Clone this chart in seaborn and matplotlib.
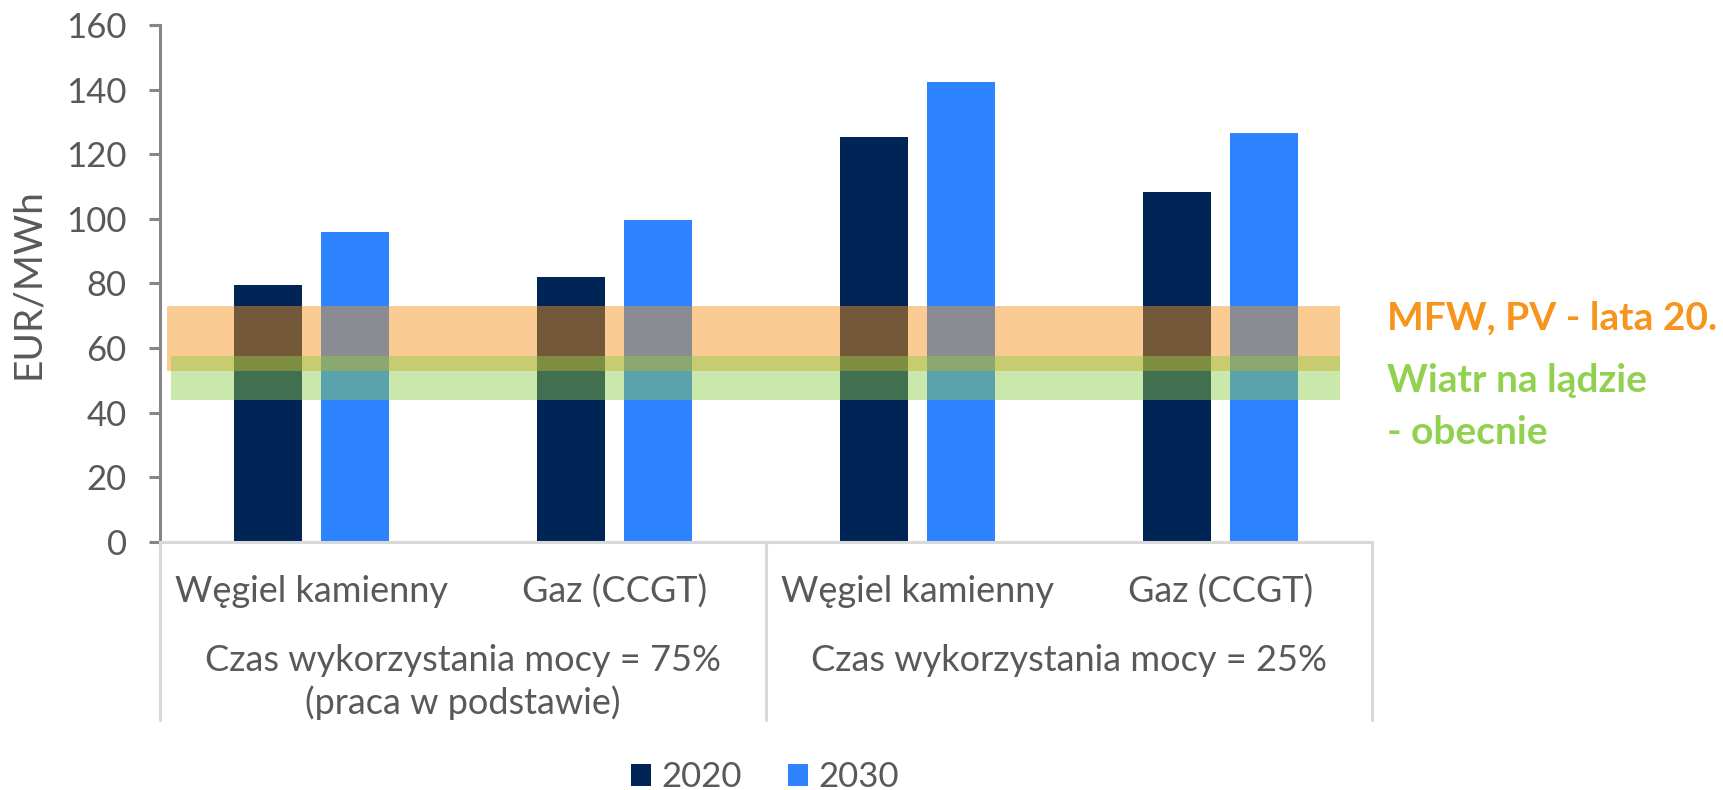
import pandas as pd
import matplotlib
matplotlib.use("Agg")
import matplotlib.pyplot as plt
import seaborn as sns

# Data
categories = ["Węgiel kamienny", "Gaz (CCGT)", "Węgiel kamienny", "Gaz (CCGT)"]
keys = ["coal_75", "gas_75", "coal_25", "gas_25"]
values_2020 = [79.6, 82.0, 125.2, 108.2]
values_2030 = [96.0, 99.7, 142.4, 126.6]
years = ["2020", "2030"]
group_labels = [["Czas wykorzystania mocy = 75%", "(praca w podstawie)"],
                ["Czas wykorzystania mocy = 25%"]]
orange_band = (53.0, 72.9)
green_band = (43.8, 57.6)
orange_text = "MFW, PV - lata 20."
green_text = ["Wiatr na lądzie", "- obecnie"]

df = pd.DataFrame({
    "key": keys * 2,
    "year": [years[0]] * 4 + [years[1]] * 4,
    "value": values_2020 + values_2030,
})

sns.set_style("white")
plt.rcParams["font.family"] = ["Lato", "DejaVu Sans"]

grey_txt = "#595959"
navy = "#002456"
blue = "#2E84FF"
orange = "#F5931A"
green = "#8DCC4A"

fig = plt.figure(figsize=(17.23, 7.9), dpi=100)
ax = fig.add_axes([160 / 1723, 1 - 541.8 / 790, 1212 / 1723, 516.8 / 790])

sns.barplot(data=df, x="key", y="value", hue="year", order=keys,
            palette=[navy, blue], width=0.57, gap=0.21, saturation=1,
            linewidth=0, ax=ax, zorder=2)

# price bands of renewables
ax.axhspan(*orange_band, xmin=0.006, xmax=0.974, color=orange, alpha=0.47, lw=0, zorder=3)
ax.axhspan(*green_band, xmin=0.009, xmax=0.974, color=green, alpha=0.46, lw=0, zorder=4)

ax.set_ylim(0, 160)
ax.set_xlim(-0.5, 3.5)
ax.set_yticks(range(0, 161, 20))
ax.tick_params(axis="y", labelsize=25, colors="#868686", labelcolor=grey_txt,
               length=8, width=2.2, direction="out", pad=16, left=True)
ax.set_xticks([])
ax.set_xlabel("")
ax.set_ylabel("EUR/MWh", fontsize=28, color=grey_txt)
ax.yaxis.set_label_coords(-0.094, 0.5)

for s in ["top", "right"]:
    ax.spines[s].set_visible(False)
ax.spines["left"].set_color("#868686")
ax.spines["left"].set_linewidth(2.2)
ax.spines["bottom"].set_color("#D9D9D9")
ax.spines["bottom"].set_linewidth(2.2)

# category labels and group separators below the axis
trans = ax.get_xaxis_transform()
for i, lab in enumerate(categories):
    ax.text(i, -0.0971, lab, transform=trans, ha="center", va="center",
            fontsize=26, color=grey_txt)
for xs in [-0.5, 1.5, 3.5]:
    ax.plot([xs, xs], [0, -0.345], transform=trans, color="#D9D9D9",
            lw=2.2, clip_on=False, zorder=1)
for g, lines in enumerate(group_labels):
    for j, line in enumerate(lines):
        ax.text(0.5 + 2 * g, -0.2300 - 0.0820 * j, line, transform=trans,
                ha="center", va="center", fontsize=26, color=grey_txt)

# band annotations
fig.text(1387 / 1723, 1 - 318 / 790, orange_text, fontsize=28, fontweight="bold",
         color="#F7941D", ha="left", va="center")
for j, line in enumerate(green_text):
    fig.text(1387 / 1723, 1 - (380 + 52 * j) / 790, line, fontsize=28,
             fontweight="bold", color="#92D050", ha="left", va="center")

handles, labels = ax.get_legend_handles_labels()
ax.legend(handles, labels, loc="center", bbox_to_anchor=(765 / 1723, 1 - 777 / 790),
          bbox_transform=fig.transFigure, ncol=2, frameon=False, fontsize=25,
          handlelength=0.58, handleheight=0.58, handletextpad=0.3,
          columnspacing=1.3, labelcolor=grey_txt)

fig.savefig("out.png", dpi=100)
